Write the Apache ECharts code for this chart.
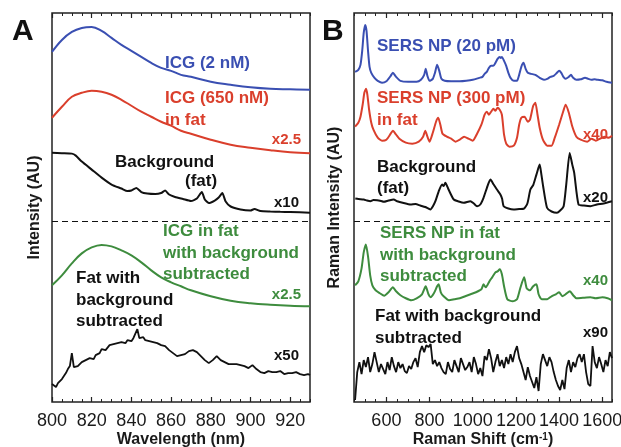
<!DOCTYPE html>
<html>
<head>
<meta charset="utf-8">
<script src="https://cdn.jsdelivr.net/npm/echarts@6/dist/echarts.min.js"></script>
<style>
  html, body { margin: 0; padding: 0; background: #fff; }
  #chart { width: 621px; height: 447px; }
</style>
</head>
<body>
<div id="chart"></div>
<script>
// ---- panel A : fluorescence, wavelength (nm) ----
const nmA = [800, 805, 810, 815, 820, 825, 830, 835, 840, 845, 850, 855, 860, 865, 870, 880, 890, 900, 910, 920, 930];
const icgA = [351, 363, 371, 375, 376, 372, 365, 358, 352, 346, 340, 335, 332, 328, 326, 321, 318, 315.5, 314, 313.5, 313];
const icgFatA = [285, 296, 306, 310, 312, 311, 308, 303, 297, 291, 286, 281, 277, 272, 269, 263, 258, 255, 252.5, 250.5, 249.5];
const icgSubA = [117, 127, 139, 149, 155, 157.5, 156, 152, 147, 140, 132, 125, 120, 116, 112, 106, 101.5, 99, 97.5, 96.5, 96];

const bgA_nm = [800, 805, 810, 812, 815, 820, 825, 830, 835, 838, 840, 842.5, 845, 848, 852, 855, 857, 859, 862, 866, 870, 873, 875.5, 877, 879, 882, 884, 885.8, 887.5, 890, 895, 900, 902, 905, 910, 915, 920, 930];
const bgA = [250, 249.5, 249, 247, 241, 233, 225, 218, 214, 211.5, 212, 214.5, 210.5, 209, 208.5, 209.5, 212, 208, 205.5, 203.5, 201.5, 204, 210.5, 203, 199.5, 202, 205, 209.5, 201, 196, 193, 192, 193.5, 191.5, 191, 190.7, 190.5, 189.7];

// fat with background subtracted, read every 1 nm from 800 to 930
const fatA_start = 800, fatA_step = 1;
const fatA = [
  18, 16, 15, 19, 21, 23, 26, 29, 33, 36, 49, 35, 33, 36, 38, 40, 39, 42, 41, 44, 45, 43, 47, 46, 49, 53, 55, 52, 54, 57, 56,
  58, 57, 59, 58, 60, 61, 59, 62, 63, 61, 64, 65, 73, 64, 63, 65, 62, 63, 61, 62, 60, 61, 59, 58, 57, 55, 56, 54, 52, 50,
  49, 47, 46, 48, 47, 49, 48, 50, 51, 53, 52, 54, 50, 48, 46, 44, 42, 41, 39, 40, 42, 44, 46, 45, 42, 41, 40, 39, 38, 39,
  38, 37, 38, 36, 37, 35, 36, 35, 34, 35, 37, 35, 33, 32, 30, 28, 29, 30, 31, 29, 30, 31, 30, 29, 31, 30, 28, 30, 29, 31,
  29, 28, 30, 29, 28, 30, 27, 29, 28, 27
];

// ---- panel B : Raman shift (cm-1) ----
const sersB_x = [455, 470, 480, 488, 495, 502, 508, 515, 522, 530, 545, 560, 580, 600, 620, 630, 645, 665, 700, 740, 760, 775, 782, 790, 800, 815, 825, 835, 845, 855, 870, 900, 940, 970, 1000, 1030, 1045, 1055, 1065, 1075, 1085, 1095, 1105, 1115, 1125, 1130, 1135, 1145, 1155, 1165, 1175, 1190, 1205, 1215, 1225, 1235, 1245, 1255, 1270, 1290, 1310, 1330, 1345, 1360, 1375, 1390, 1400, 1410, 1420, 1430, 1445, 1455, 1465, 1480, 1500, 1520, 1535, 1550, 1565, 1580, 1600, 1620, 1645];
const sersB = [331, 333, 338, 352, 370, 378, 372, 352, 336, 330, 325, 322, 320, 321.5, 327, 330, 326, 322, 321, 321, 323, 328, 334, 327, 322, 324, 330, 338, 332, 324, 322, 321.5, 321.5, 322, 323, 325, 326, 329, 331, 335, 337, 337, 340, 344, 346, 345, 346, 342, 337, 330, 325, 322, 322, 328, 336, 340, 334, 330, 329, 328, 325, 323, 324, 326, 327, 330, 332, 330, 326, 324, 326, 328, 325, 323, 323.5, 325, 324, 323, 323.5, 323, 322.5, 321, 320];

const sersFatB_x = [455, 470, 480, 490, 498, 506, 512, 520, 530, 540, 560, 580, 600, 620, 630, 645, 660, 690, 720, 750, 770, 780, 790, 800, 815, 830, 840, 850, 860, 880, 900, 920, 940, 960, 980, 1000, 1020, 1040, 1055, 1065, 1075, 1085, 1095, 1105, 1115, 1125, 1135, 1145, 1155, 1170, 1190, 1205, 1215, 1225, 1240, 1255, 1265, 1280, 1290, 1300, 1310, 1325, 1345, 1365, 1380, 1400, 1420, 1430, 1445, 1460, 1480, 1500, 1530, 1550, 1570, 1590, 1610, 1630, 1645];
const sersFatB = [276, 280, 286, 298, 310, 314, 308, 293, 280, 273, 265, 262, 263, 269, 272, 268, 264, 260, 259, 261, 266, 272, 266, 261, 270, 281, 285, 278, 269, 266, 264, 261, 263, 266, 264, 262, 269, 278, 288, 291, 288, 291, 294, 292, 295, 293, 288, 268, 259, 256, 257, 265, 278, 285, 286, 281, 283, 297, 300, 288, 275, 263, 257, 257, 265, 278, 292, 298, 290, 277, 266, 263, 261, 264, 262, 264, 266, 265, 267];

const bgB_x = [456, 470, 495, 510, 526, 540, 557, 575, 588, 610, 634, 650, 680, 711, 735, 757, 780, 804, 815, 827, 842, 858, 865, 873, 888, 912, 935, 958, 989, 1005, 1020, 1035, 1050, 1066, 1082, 1097, 1112, 1128, 1136, 1143, 1165, 1189, 1215, 1236, 1253, 1267, 1281, 1295, 1310, 1318, 1326, 1344, 1365, 1390, 1405, 1421, 1433, 1449, 1461, 1470, 1490, 1515, 1545, 1575, 1606, 1645];
const bgB = [204, 203.5, 203, 202, 201.3, 202.5, 202.3, 201.5, 200.7, 202, 203, 201.3, 199.5, 198, 198.5, 197, 195.5, 193, 196, 201.3, 211, 218, 216.5, 219.7, 213, 203, 201, 199.7, 201.3, 199, 196.3, 198, 204.7, 215, 223, 218, 213, 208, 203.7, 196.3, 194, 193, 193.5, 193.7, 199, 213, 218, 228, 238, 228, 216.3, 194.7, 191, 189.7, 192, 196.3, 218, 249.7, 238, 229.7, 198, 197, 196.3, 198, 199, 201.3];

const sersSubB_x = [455, 470, 485, 495, 505, 515, 525, 535, 550, 570, 590, 610, 630, 645, 665, 690, 715, 740, 765, 782, 795, 805, 820, 835, 842, 852, 865, 890, 915, 940, 965, 990, 1015, 1040, 1050, 1060, 1070, 1080, 1090, 1105, 1115, 1125, 1135, 1145, 1160, 1185, 1205, 1220, 1238, 1250, 1265, 1280, 1295, 1305, 1320, 1345, 1365, 1385, 1400, 1415, 1430, 1450, 1465, 1480, 1510, 1545, 1570, 1600, 1625, 1645];
const sersSubB = [117, 121, 134, 150, 158, 146, 127, 117, 112, 109, 106.5, 110, 115, 111, 107, 104, 102, 104, 108, 116, 108, 105, 109, 116, 118, 110, 106, 102, 103, 104, 106, 108, 110, 113, 118, 115, 118, 122, 125, 130, 131, 133, 128, 116, 103, 101, 103, 114, 125, 114, 112, 116, 118, 108, 103, 103, 106, 108, 110, 106, 108, 111, 107, 104, 104.5, 105, 104, 105, 104, 102];

// fat with background subtracted, read every 10 cm-1 from 455 to 1645
const fatB_start = 455, fatB_step = 10;
const fatB = [
  2, 30, 40, 28, 42, 35, 45, 30, 38, 50,
  40, 30, 38, 33, 28, 40, 32, 45, 36, 30,
  40, 34, 38, 31, 29, 36, 33, 40, 44, 35,
  50, 56, 50, 57, 55, 58, 38, 42, 36, 40,
  34, 30, 28, 40, 33, 30, 42, 36, 30, 44,
  38, 32, 35, 40, 30, 45, 38, 28, 34, 26,
  46, 42, 53, 44, 30, 40, 48, 36, 42, 34,
  45, 38, 48, 40, 50, 56, 44, 38, 30, 22,
  35, 26, 20, 14, 25, 11, 38, 48, 42, 36,
  45, 40, 30, 22, 16, 12, 22, 13, 34, 42,
  30, 40, 35, 44, 48, 40, 48, 30, 18, 16,
  56, 40, 34, 45, 38, 30, 42, 36, 50, 44
];

const cutLevel = 181; // dashed separator
const ticksA = [800, 820, 840, 860, 880, 900, 920];
const ticksB = [600, 800, 1000, 1200, 1400, 1600];

const FONT = '"Liberation Sans", Arial, Helvetica, sans-serif';
const BLUE = '#3a4fb2', RED = '#da3f2c', GREEN = '#3e8c3e', BLACK = '#111111';

const pairs = (xs, ys) => xs.map((x, i) => [x, ys[i]]);
const stepped = (x0, dx, ys) => ys.map((y, i) => [x0 + i * dx, y]);

const chart = echarts.init(document.getElementById('chart'));

// fixed plot boxes; outerBoundsMode none so labels never squeeze them
const gridA = { left: 52, top: 13, width: 258, height: 389, outerBoundsMode: 'none', containLabel: false };
const gridB = { left: 354, top: 13, width: 258, height: 389, outerBoundsMode: 'none', containLabel: false };

function mainX(grid, pos, min, max, ticks, name) {
  return {
    gridIndex: grid, type: 'value', position: pos, min, max,
    axisLine: { show: false }, splitLine: { show: false },
    axisTick: { inside: true, length: 5, customValues: ticks, lineStyle: { color: '#222', width: 1.2 } },
    axisLabel: pos === 'bottom'
      ? { customValues: ticks, margin: 10, fontSize: 18, color: '#1a1a1a', fontFamily: FONT,
          showMinLabel: true, showMaxLabel: true, hideOverlap: false, formatter: v => String(v) }
      : { show: false },
    name: pos === 'bottom' ? name : '',
    nameLocation: 'middle', nameGap: 30, nameMoveOverlap: false,
    nameTextStyle: {
      fontSize: 16, fontWeight: 'bold', color: '#1a1a1a', fontFamily: FONT,
      rich: { sup: { fontSize: 10, fontWeight: 'bold', color: '#1a1a1a', fontFamily: FONT, verticalAlign: 'top', lineHeight: 10 } }
    }
  };
}
function minorX(grid, pos, min, max, step) {
  return {
    gridIndex: grid, type: 'value', position: pos, min, max, interval: step,
    axisLine: { show: false }, splitLine: { show: false }, axisLabel: { show: false },
    axisTick: { inside: true, length: 3, lineStyle: { color: '#222', width: 1 } }
  };
}
function yAx(grid, name, gap) {
  return {
    gridIndex: grid, type: 'value', min: 0, max: 390, show: !!name,
    axisLine: { show: false }, axisTick: { show: false }, axisLabel: { show: false }, splitLine: { show: false },
    name: name || '', nameLocation: 'middle', nameGap: gap || 0, nameMoveOverlap: false,
    nameTextStyle: { fontSize: 16, fontWeight: 'bold', color: '#1a1a1a', fontFamily: FONT }
  };
}
function line(data, color, xi, yi, smooth, width) {
  return {
    type: 'line', data, xAxisIndex: xi, yAxisIndex: yi, symbol: 'none', smooth: smooth || false,
    lineStyle: { color, width: width || 2 }, silent: true
  };
}
const sep = {
  silent: true, symbol: 'none', label: { show: false },
  lineStyle: { color: '#111', type: [6, 4], width: 1.2 },
  data: [{ yAxis: cutLevel }]
};

function txt(text, left, top, color, size, lh) {
  return { type: 'text', left, top, silent: true,
    style: { text, fill: color, font: `bold ${size}px ${FONT}`, lineHeight: lh || size } };
}
function rtxt(text, rightEdge, top, color) {
  return { type: 'text', right: 621 - rightEdge, top, silent: true,
    style: { text, fill: color, font: `bold 15px ${FONT}`, lineHeight: 15 } };
}

chart.setOption({
  animation: false,
  backgroundColor: '#fff',
  grid: [
    Object.assign({ show: true, borderColor: '#222', borderWidth: 1.5 }, gridA),
    Object.assign({ show: false }, gridA),
    Object.assign({ show: true, borderColor: '#222', borderWidth: 1.5 }, gridB),
    Object.assign({ show: false }, gridB)
  ],
  xAxis: [
    mainX(0, 'bottom', 800, 930, ticksA, 'Wavelength (nm)'),
    mainX(0, 'top', 800, 930, ticksA),
    minorX(1, 'bottom', 800, 930, 5),
    minorX(1, 'top', 800, 930, 5),
    mainX(2, 'bottom', 450, 1645, ticksB, 'Raman Shift (cm{sup|-1})'),
    mainX(2, 'top', 450, 1645, ticksB),
    minorX(3, 'bottom', 450, 1645, 50),
    minorX(3, 'top', 450, 1645, 50)
  ],
  yAxis: [
    yAx(0, 'Intensity (AU)', 9),
    yAx(1),
    yAx(2, 'Raman Intensity (AU)', 11),
    yAx(3)
  ],
  series: [
    line(pairs(nmA, icgA), BLUE, 0, 0, 0.4),
    line(pairs(nmA, icgFatA), RED, 0, 0, 0.4),
    Object.assign(line(pairs(bgA_nm, bgA), BLACK, 0, 0, 0.2), { markLine: sep }),
    line(pairs(nmA, icgSubA), GREEN, 0, 0, 0.4),
    line(stepped(fatA_start, fatA_step, fatA), BLACK, 0, 0, false, 1.8),

    line(pairs(sersB_x, sersB), BLUE, 4, 2, 0.2),
    line(pairs(sersFatB_x, sersFatB), RED, 4, 2, 0.2),
    Object.assign(line(pairs(bgB_x, bgB), BLACK, 4, 2, 0.2), { markLine: sep }),
    line(pairs(sersSubB_x, sersSubB), GREEN, 4, 2, 0.2),
    line(stepped(fatB_start, fatB_step, fatB), BLACK, 4, 2, false, 1.8)
  ],
  graphic: [
    txt('A', 12, 17, '#111', 30, 30),
    txt('B', 322, 17, '#111', 30, 30),

    txt('ICG (2 nM)', 165, 53, BLUE, 17, 21.5),
    txt('ICG (650 nM)\nin fat', 165, 88, RED, 17, 21.5),
    rtxt('x2.5', 301, 132, RED),
    txt('Background', 115, 152, BLACK, 17, 21.5),
    txt('(fat)', 185, 171, BLACK, 17, 21.5),
    rtxt('x10', 299, 195, BLACK),
    txt('ICG in fat\nwith background\nsubtracted', 163, 221, GREEN, 17, 21.5),
    rtxt('x2.5', 301, 287, GREEN),
    txt('Fat with\nbackground\nsubtracted', 76, 268, BLACK, 17, 21.5),
    rtxt('x50', 299, 348, BLACK),

    txt('SERS NP (20 pM)', 377, 36, BLUE, 17, 21.5),
    txt('SERS NP (300 pM)\nin fat', 377, 88, RED, 17, 21.5),
    rtxt('x40', 608, 127, RED),
    txt('Background\n(fat)', 377, 157, BLACK, 17, 21),
    rtxt('x20', 608, 190, BLACK),
    txt('SERS NP in fat\nwith background\nsubtracted', 380, 223, GREEN, 17, 21.5),
    rtxt('x40', 608, 273, GREEN),
    txt('Fat with background\nsubtracted', 375, 306, BLACK, 17, 21.5),
    rtxt('x90', 608, 325, BLACK)
  ]
});
</script>
</body>
</html>
